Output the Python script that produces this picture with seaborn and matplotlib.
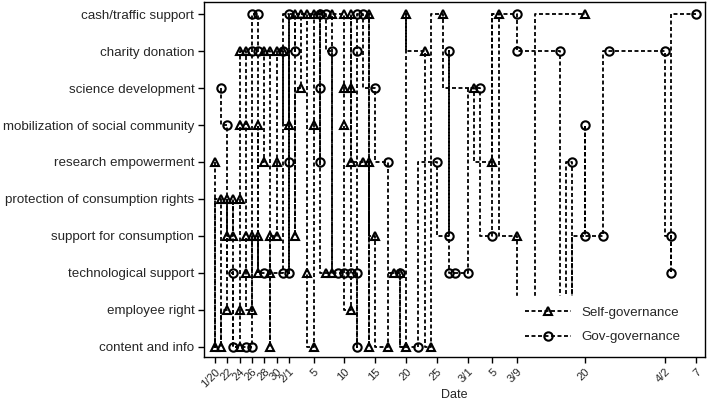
import pandas as pd
import matplotlib
matplotlib.use("Agg")
import matplotlib.pyplot as plt
from matplotlib.lines import Line2D
import seaborn as sns

# ===========================
# DATA
# ===========================
# Category keys, top to bottom, and the labels shown on the y axis
cat_keys = ["cash", "charity", "science", "mobil", "research",
            "protect", "support", "tech", "employee", "content"]
cat_labels = ["cash/traffic support", "charity donation", "science development",
              "mobilization of social community", "research empowerment",
              "protection of consumption rights", "support for consumption",
              "technological support", "employee right", "content and info"]

# Self-governance events, in the order they are linked (month/day, category)
self_dates = ["1/20", "1/20", "1/21", "1/21", "1/22", "1/22", "1/22", "1/23", "1/23",
              "1/24", "1/24", "1/24", "1/24", "1/24", "1/25", "1/25", "1/25", "1/25",
              "1/26", "1/26", "1/27", "1/27", "1/27", "1/28", "1/28",
              "1/29", "1/29", "1/29", "1/29", "1/30", "1/30", "1/30", "1/31", "2/1",
              "2/2", "2/2", "2/3", "2/3", "2/4", "2/4", "2/5", "2/5", "2/5", "2/6",
              "2/7", "2/8", "2/8", "2/10", "2/10", "2/10", "2/11", "2/11", "2/11", "2/11",
              "2/13", "2/14", "2/14", "2/14", "2/15", "2/17", "2/18", "2/19",
              "2/20", "2/20", "2/23", "2/24", "2/26", "3/2", "3/5", "3/6", "3/9",
              "3/12", "3/20"]
self_cats = ["research", "content", "protect", "content", "employee", "protect", "support",
             "support", "protect",
             "content", "employee", "protect", "mobil", "charity", "charity", "mobil",
             "support", "tech",
             "employee", "support", "support", "tech", "mobil", "research", "charity",
             "charity", "support", "tech", "content", "support", "research", "charity",
             "charity", "mobil",
             "cash", "support", "science", "cash", "cash", "tech", "content", "mobil",
             "cash", "cash",
             "tech", "tech", "cash", "cash", "science", "mobil", "employee", "research",
             "science", "cash",
             "research", "research", "content", "cash", "support", "content", "tech", "tech",
             "content", "cash", "charity", "content", "cash", "science", "research", "cash",
             "support",
             "content", "cash"]

# Gov-governance events
gov_dates = ["1/21", "1/22", "1/23", "1/23", "1/25", "1/26", "1/26", "1/26", "1/27", "1/27",
             "1/28", "1/31", "1/31", "2/1", "2/1", "2/1", "2/2", "2/6", "2/6", "2/6",
             "2/7", "2/8", "2/9", "2/10", "2/11", "2/12", "2/12", "2/12", "2/12", "2/13",
             "2/15", "2/17", "2/19", "2/22", "2/25", "2/27", "2/27", "2/27", "2/28", "3/1",
             "3/3", "3/5", "3/9", "3/9", "3/16", "3/17", "3/18", "3/18", "3/20", "3/20",
             "3/23", "3/24", "4/2", "4/3", "4/3", "4/7"]
gov_cats = ["science", "mobil", "tech", "content", "content", "content", "charity", "cash",
            "cash", "charity",
            "tech", "tech", "charity", "cash", "research", "tech", "charity", "cash",
            "science", "research",
            "cash", "charity", "tech", "tech", "tech", "tech", "content", "charity", "cash",
            "cash",
            "science", "research", "tech", "content", "research", "support", "charity",
            "tech", "tech", "tech",
            "science", "support", "cash", "charity", "charity", "content", "research",
            "content", "support", "mobil",
            "support", "charity", "charity", "support", "tech", "cash"]

tick_dates = ["1/20", "1/22", "1/24", "1/26", "1/28", "1/30", "2/1", "2/5", "2/10", "2/15",
              "2/20", "2/25", "3/1", "3/5", "3/9", "3/20", "4/2", "4/7"]
tick_labels = ["1/20", "22", "24", "26", "28", "30", "2/1", "5", "10", "15",
               "20", "25", "3/1", "5", "3/9", "20", "4/2", "7"]


def to_day(s):
    # days since 2020-01-20
    m, d = map(int, s.split("/"))
    return (pd.Timestamp(2020, m, d) - pd.Timestamp(2020, 1, 20)).days


df = pd.concat([
    pd.DataFrame({"series": "Self-governance", "date": self_dates, "cat": self_cats}),
    pd.DataFrame({"series": "Gov-governance", "date": gov_dates, "cat": gov_cats}),
], ignore_index=True)
df["day"] = df["date"].apply(to_day)
df["pos"] = df["cat"].map({k: i for i, k in enumerate(cat_keys)})

# ===========================
# PLOT
# ===========================
sns.set_style("ticks")
plt.rcParams["font.family"] = ["Liberation Sans", "DejaVu Sans"]

fig, ax = plt.subplots(figsize=(7.08, 4.11), dpi=100)
fig.subplots_adjust(left=204 / 708, right=705 / 708, top=1 - 2 / 411, bottom=1 - 357 / 411)

dash = (2.2, 1.4)
lw = 1.3
mew = 1.5
sns.lineplot(data=df, x="day", y="pos", style="series",
             markers={"Self-governance": "^", "Gov-governance": "o"},
             dashes={"Self-governance": dash, "Gov-governance": dash},
             sort=False, estimator=None, drawstyle="steps-pre", color="black",
             linewidth=lw, markersize=6, markerfacecolor="none",
             markeredgecolor="black", markeredgewidth=mew, legend=False, ax=ax)

ax.set_xlim(-1.78, 79.5)
ax.set_ylim(9.28, -0.33)
ax.set_yticks(range(len(cat_labels)))
ax.set_yticklabels(cat_labels, fontsize=9.6)
ax.set_xticks([to_day(d) for d in tick_dates])
ax.set_xticklabels(tick_labels, rotation=45, ha="right", rotation_mode="anchor", fontsize=8)
ax.set_xlabel("Date", fontsize=9, labelpad=0)
ax.set_ylabel("")
ax.tick_params(direction="out", length=4, width=1, color="black", pad=3)
for sp in ax.spines.values():
    sp.set_visible(True)
    sp.set_color("black")
    sp.set_linewidth(1)

handles = [
    Line2D([], [], color="black", linestyle=(0, dash), linewidth=lw, marker="^",
           markersize=6, markerfacecolor="none", markeredgecolor="black", markeredgewidth=mew),
    Line2D([], [], color="black", linestyle=(0, dash), linewidth=lw, marker="o",
           markersize=6, markerfacecolor="none", markeredgecolor="black", markeredgewidth=mew),
]
leg = ax.legend(handles, ["Self-governance", "Gov-governance"], loc="lower right",
                bbox_to_anchor=(0.972, 0.008), borderaxespad=0,
                fontsize=9.6, frameon=True, facecolor="white", edgecolor="white",
                framealpha=1, fancybox=False, handlelength=3.4, handletextpad=0.8,
                labelspacing=0.9, borderpad=0.8)

fig.savefig("out.png", dpi=100)
